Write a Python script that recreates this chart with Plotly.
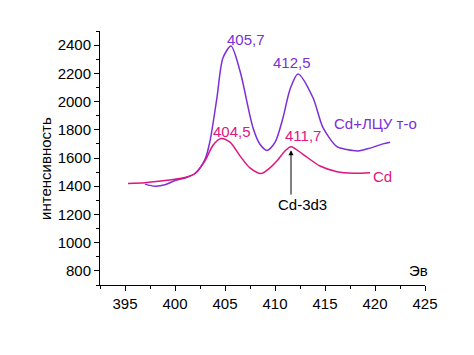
import plotly.graph_objects as go

cd_x = [395.3, 397, 399, 400, 401, 402, 403, 403.8, 404.6, 405.5, 406.5, 407.5, 408.6, 409.5, 410.2, 411, 411.6, 412.8, 414.5, 416.2, 417.8, 419.5]
cd_y = [1420, 1425, 1440, 1450, 1462, 1490, 1580, 1690, 1738, 1712, 1615, 1530, 1490, 1530, 1580, 1650, 1680, 1626, 1543, 1503, 1492, 1496]

lcu_x = [397, 398, 399, 400, 401, 402, 403, 403.5, 404.2, 404.8, 405.6, 406.5, 407.8, 408.5, 409.2, 410, 410.8, 411.5, 412.3, 413.8, 414.8, 416.2, 417.2, 418.3, 419.5, 420.8, 421.5]
lcu_y = [1415, 1400, 1410, 1440, 1458, 1490, 1590, 1720, 2030, 2310, 2393, 2216, 1815, 1697, 1654, 1710, 1885, 2086, 2195, 2027, 1815, 1680, 1660, 1650, 1670, 1700, 1712]

PURPLE = "#7B2FD6"
MAGENTA = "#E0157F"
FONT = "Liberation Sans, Arial, sans-serif"
FS = 15

fig = go.Figure()
fig.add_trace(go.Scatter(x=lcu_x, y=lcu_y, mode="lines", line=dict(color=PURPLE, width=1.5, shape="spline", smoothing=0.8)))
fig.add_trace(go.Scatter(x=cd_x, y=cd_y, mode="lines", line=dict(color=MAGENTA, width=1.5, shape="spline", smoothing=0.8)))

ann = [
    (407.1, 2442, "405,7", PURPLE),
    (411.7, 2275, "412,5", PURPLE),
    (420.0, 1848, "Cd+ЛЦУ т-о", PURPLE),
    (405.7, 1791, "404,5", MAGENTA),
    (412.75, 1756, "411,7", MAGENTA),
    (420.75, 1466, "Cd", MAGENTA),
    (412.7, 1270, "Cd-3d3", "black"),
    (424.3, 800, "Эв", "black"),
]
for x, y, t, c in ann:
    fig.add_annotation(x=x, y=y, text=t, showarrow=False, font=dict(color=c, size=FS, family=FONT),
                       yanchor="middle", xanchor="center")

fig.add_annotation(x=-0.17, y=0.46, xref="paper", yref="paper", text="интенсивность", textangle=-90,
                   xanchor="center", yanchor="middle",
                   showarrow=False, font=dict(color="black", size=FS, family=FONT))

fig.add_annotation(x=411.6, y=1655, ax=411.6, ay=1330, axref="x", ayref="y", text="",
                   showarrow=True, arrowhead=2, arrowsize=1, arrowwidth=1, arrowcolor="black")

fig.update_layout(
    width=466, height=347, showlegend=False,
    plot_bgcolor="white", paper_bgcolor="white",
    margin=dict(l=92, r=49, t=23, b=70),
    font=dict(family=FONT, size=FS, color="black"),
    xaxis=dict(range=[392.5, 425], tickvals=[395, 400, 405, 410, 415, 420, 425], automargin=False,
               ticks="outside", ticklen=5, tickwidth=1, tickcolor="black",
               showline=True, linecolor="black", linewidth=1, showgrid=False, zeroline=False,
               minor=dict(tickvals=[392.5, 397.5, 402.5, 407.5, 412.5, 417.5, 422.5], ticks="outside", ticklen=3, tickcolor="black"),
               tickfont=dict(size=FS)),
    yaxis=dict(range=[700, 2500], tickvals=[800, 1000, 1200, 1400, 1600, 1800, 2000, 2200, 2400], automargin=False,
               ticks="outside", ticklen=5, tickwidth=1, tickcolor="black",
               showline=True, linecolor="black", linewidth=1, showgrid=False, zeroline=False,
               minor=dict(dtick=100, ticks="outside", ticklen=3, tickcolor="black"),
               tickfont=dict(size=FS)),
)

fig.write_html("out.html")
